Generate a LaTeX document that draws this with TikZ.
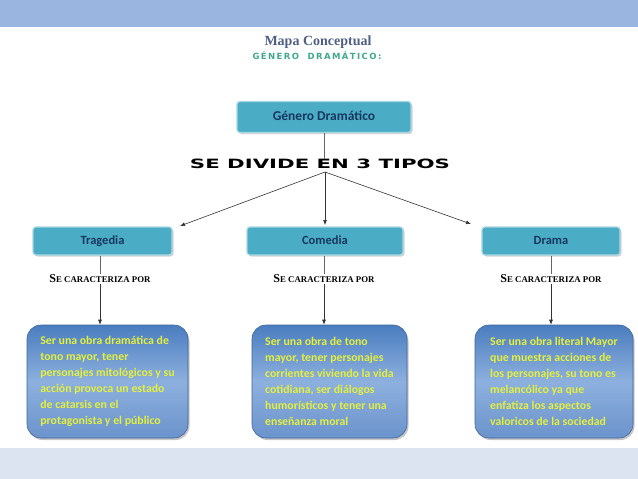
\documentclass[tikz,border=0pt]{standalone}
\usepackage{fontspec}
\usepackage{graphicx}
\newfontfamily\calib{Carlito}
\newfontfamily\libserif{Liberation Serif}
\newfontfamily\dejav{DejaVu Sans}
\usetikzlibrary{shadows,arrows.meta}
\definecolor{topband}{HTML}{9BB5E1}
\definecolor{botband}{HTML}{DDE4F1}
\definecolor{teal}{HTML}{4BACC6}
\definecolor{tealborder}{HTML}{A9D6E3}
\definecolor{navy}{HTML}{17375E}
\definecolor{bluetop}{HTML}{4A7DBF}
\definecolor{bluemid}{HTML}{8DB0DE}
\definecolor{bluebot}{HTML}{6B93CC}
\definecolor{blueborder}{HTML}{3F649A}
\definecolor{ytext}{HTML}{E4F03A}
\definecolor{titlecol}{HTML}{4F5F86}
\definecolor{subcol}{HTML}{3FA88E}
\begin{document}
\begin{tikzpicture}[x=1pt,y=-1pt,
  typebox/.style={draw=tealborder, line width=1.2pt, fill=teal, rounded corners=3pt,
     drop shadow={shadow xshift=1.5pt, shadow yshift=-1.5pt, opacity=0.35},
     font=\calib\bfseries\fontsize{12.5}{14}\selectfont, text=navy, inner sep=0pt,
     text height=9pt, text depth=3pt},
  descbox/.style={draw=blueborder, line width=0.6pt, rounded corners=14pt,
     top color=bluetop, bottom color=bluebot, middle color=bluemid,
     drop shadow={shadow xshift=1.5pt, shadow yshift=-2pt, opacity=0.45},
     text=ytext, font=\calib\bfseries\fontsize{11.8}{16}\selectfont,
     align=left, inner sep=0pt, minimum width=158pt, minimum height=113pt},
  charlbl/.style={font=\libserif\bfseries, inner sep=1pt, fill=white},
  grayline/.style={draw=black!60, line width=0.7pt},
  arr/.style={draw=black!80, line width=0.6pt, -{Latex[length=5pt,width=4pt]}}
]
\useasboundingbox (0,0) rectangle (638,479);
\fill[topband] (0,0) rectangle (638,27);
\fill[botband] (0,448) rectangle (638,479);

% titles
\node[font=\libserif\bfseries\fontsize{14}{16}\selectfont, text=titlecol] (title) at (318,42) {Mapa Conceptual};
\node[font=\dejav\bfseries\fontsize{8.5}{9}\selectfont, text=subcol] (subtitle) at (317,56) {G\,É\,N\,E\,R\,O\quad D\,R\,A\,M\,Á\,T\,I\,C\,O\,:};

% main box
\node[typebox, minimum width=174pt, minimum height=31pt, font=\calib\bfseries\fontsize{13.5}{15}\selectfont] (gd) at (324,117) {Género Dramático};

% divide text
\node[inner sep=0pt] (div) at (320,164) {\resizebox{260pt}{9.5pt}{\dejav\bfseries SE DIVIDE EN 3 TIPOS}};
\coordinate (split) at (325,172);
\draw[grayline] (gd.south) -- (div.north -| gd.south);

% type boxes
\node[typebox, minimum width=139pt, minimum height=28pt] (trag) at (102.5,241) {Tragedia};
\node[typebox, minimum width=156pt, minimum height=28pt] (com) at (325,241) {Comedia};
\node[typebox, minimum width=138pt, minimum height=28pt] (dra) at (551,241) {Drama};

\draw[arr] (split) -- (180,226);
\draw[arr] (split) -- (325,225);
\draw[arr] (split) -- (471,224);

% "Se caracteriza por"
\newcommand{\secar}{{\fontsize{12}{12}\selectfont S}{\fontsize{8.8}{12}\selectfont E CARACTERIZA POR}}
\node[charlbl] (c1) at (100,279) {\secar};
\node[charlbl] (c2) at (324,279) {\secar};
\node[charlbl] (c3) at (551,279) {\secar};

% description boxes
\node[descbox, minimum width=161pt] (d1) at (107.5,381.5) {Ser una obra dramática de\\tono mayor, tener\\personajes mitológicos y su\\acción provoca un estado\\de catarsis en el\\protagonista y el público};
\node[descbox, minimum width=155pt] (d2) at (329.5,381.5) {Ser una obra de tono\\mayor, tener personajes\\corrientes viviendo la vida\\cotidiana, ser diálogos\\humorísticos y tener una\\enseñanza moral};
\node[descbox, minimum width=158pt] (d3) at (554,381.5) {Ser una obra literal Mayor\\que muestra acciones de\\los personajes, su tono es\\melancólico ya que\\enfatiza los aspectos\\valoricos de la sociedad};

% connectors
\draw[grayline] (trag.south -| c1) -- (c1.north);
\draw[grayline] (com.south -| c2) -- (c2.north);
\draw[grayline] (dra.south -| c3) -- (c3.north);
\draw[arr] (c1.south) -- (c1.south |- d1.north);
\draw[arr] (c2.south) -- (c2.south |- d2.north);
\draw[arr] (c3.south) -- (c3.south |- d3.north);
\end{tikzpicture}
\end{document}
